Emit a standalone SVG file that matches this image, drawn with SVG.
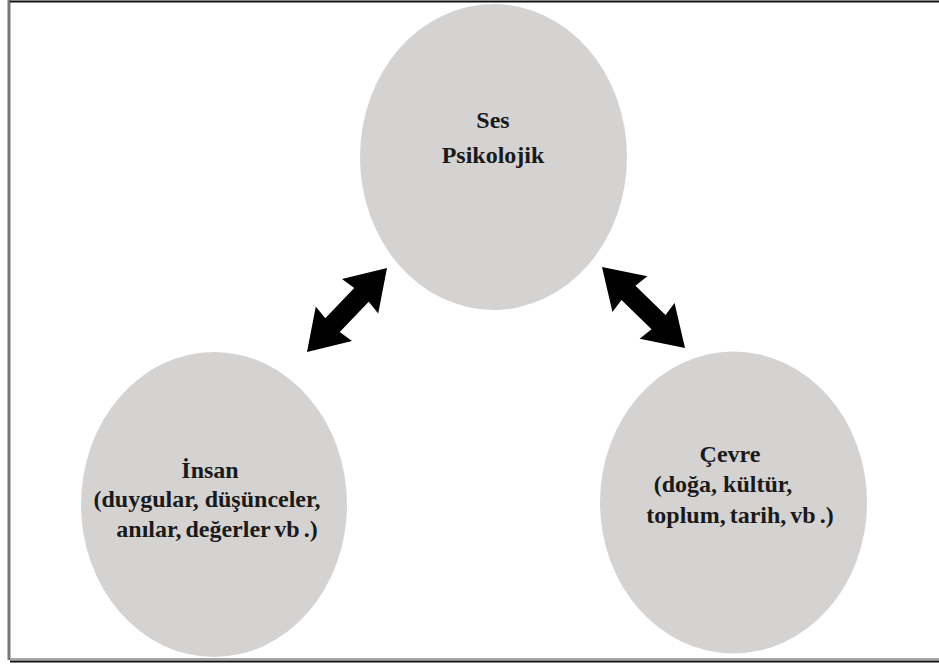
<svg xmlns="http://www.w3.org/2000/svg" width="939" height="664" viewBox="0 0 939 664">
<style>
.node{fill:#d5d2d2}
.t{font-family:"Liberation Serif","Times New Roman",serif;font-weight:bold;font-size:24px;fill:#1a1a1a;text-anchor:middle}
.arrow{fill:#000}
</style>
<defs>
<polygon id="dbl" points="58,0 19,-25 21,-10 -21,-10 -19,-25 -58,0 -19,25 -21,10 21,10 19,25"/>
</defs>
<rect x="0" y="0" width="939" height="664" fill="#fff"/>
<g id="frame">
<line x1="9" y1="0" x2="9" y2="660" stroke="#777" stroke-width="3"/>
<line x1="10" y1="1.5" x2="939" y2="1.5" stroke="#111" stroke-width="2"/>
<line x1="10" y1="659" x2="939" y2="659" stroke="#888" stroke-width="1.5"/>
<line x1="10" y1="661.5" x2="939" y2="661.5" stroke="#111" stroke-width="2"/>
</g>
<g id="node-ses">
<ellipse class="node" cx="493.5" cy="157" rx="133.5" ry="153"/>
<text class="t" x="493" y="128">Ses</text>
<text class="t" x="493" y="163">Psikolojik</text>
</g>
<g id="node-insan">
<ellipse class="node" cx="214" cy="504.5" rx="133" ry="152.5"/>
<text class="t" x="210" y="478">İnsan</text>
<text class="t" x="207" y="507">(duygular, düşünceler,</text>
<text class="t" x="217" y="537" word-spacing="-2">anılar, değerler vb .)</text>
</g>
<g id="node-cevre">
<ellipse class="node" cx="733.5" cy="502.5" rx="133.5" ry="151"/>
<text class="t" x="730" y="462">Çevre</text>
<text class="t" x="723" y="492">(doğa, kültür,</text>
<text class="t" x="740" y="523" word-spacing="-2">toplum, tarih, vb .)</text>
</g>
<g id="connectors">
<use href="#dbl" class="arrow" transform="translate(347 310) rotate(-46.4)"/>
<use href="#dbl" class="arrow" transform="translate(643.5 307.5) rotate(44.3)"/>
</g>
</svg>
